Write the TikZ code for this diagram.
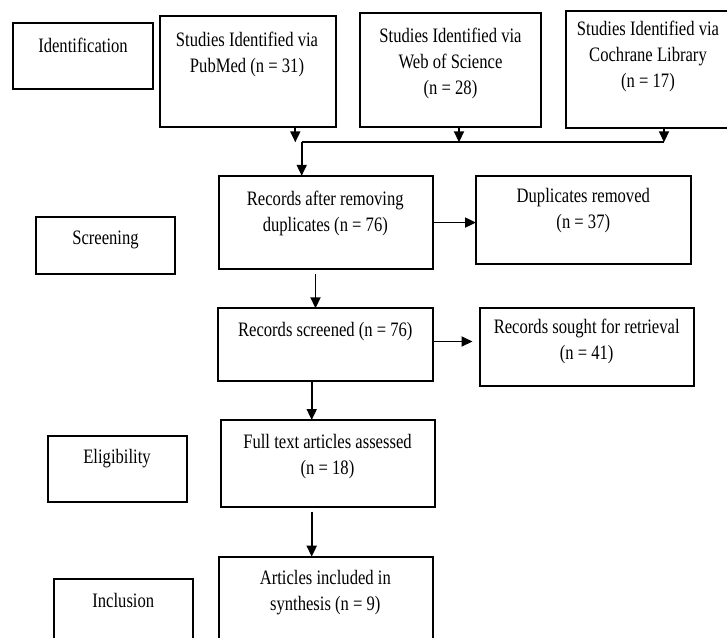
\documentclass[tikz,border=0pt]{standalone}
\usepackage{fontspec}
\setmainfont[FakeStretch=0.81]{Liberation Serif}
\usetikzlibrary{arrows.meta}
\begin{document}
\begin{tikzpicture}[x=1pt,y=-1pt,
  box/.style={draw, line width=2pt, inner sep=0pt, outer sep=0pt},
  txt/.style={align=center, inner sep=0pt, font=\fontsize{20.5}{26}\selectfont},
  link/.style={line width=1.8pt},
  arr/.style={line width=1.8pt, -{Triangle[length=11pt,width=10pt]}}]
\useasboundingbox (0,0) rectangle (727,637);
\clip (0,0) rectangle (727,637);
\fill[white] (0,0) rectangle (727,637);
% boxes
\node[box, minimum width=139.4pt, minimum height=66.3pt] (ident) at (83,55.85) {};
\node[box, minimum width=176.3pt, minimum height=110.7pt] (pub) at (247.85,71.35) {};
\node[box, minimum width=181.3pt, minimum height=113.4pt] (wos) at (450.65,70) {};
\node[box, minimum width=169.3pt, minimum height=116.7pt] (coch) at (650.35,69.35) {};
\node[box, minimum width=214.2pt, minimum height=93.5pt] (rec) at (325.6,222.55) {};
\node[box, minimum width=214.5pt, minimum height=88.5pt] (dup) at (583.25,220.05) {};
\node[box, minimum width=139.3pt, minimum height=56.7pt] (scr) at (105.35,245.65) {};
\node[box, minimum width=214.3pt, minimum height=72.4pt] (screened) at (325.5,344.5) {};
\node[box, minimum width=214.3pt, minimum height=77.4pt] (sought) at (587.15,347) {};
\node[box, minimum width=214pt, minimum height=87pt] (full) at (328,463.5) {};
\node[box, minimum width=139pt, minimum height=66pt] (elig) at (117.2,469) {};
\node[box, minimum width=213.7pt, minimum height=103.3pt] (art) at (325.85,608.35) {};
\node[box, minimum width=139.3pt, minimum height=81pt] (incl) at (123.65,619.5) {};
% texts
\node[txt] (identT) at (83,45) {Identification};
\node[txt] (pubT) at (247,54) {Studies Identified via\\PubMed (n = 31)};
\node[txt] (wosT) at (450.5,63) {Studies Identified via\\Web of Science\\(n = 28)};
\node[txt] (cochT) at (648,56.7) {Studies Identified via\\Cochrane Library\\(n = 17)};
\node[txt] (recT) at (325.3,213) {Records after removing\\duplicates (n = 76)};
\node[txt] (dupT) at (583.3,210.3) {Duplicates removed\\(n = 37)};
\node[txt] (scrT) at (105.5,240) {Screening};
\node[txt] (screenedT) at (325.3,331.7) {Records screened (n = 76)};
\node[txt] (soughtT) at (586.7,341.2) {Records sought for retrieval\\(n = 41)};
\node[txt] (fullT) at (327.5,456.3) {Full text articles assessed\\(n = 18)};
\node[txt] (eligT) at (117,458.3) {Eligibility};
\node[txt] (artT) at (325.3,592.5) {Articles included in\\synthesis (n = 9)};
\node[txt] (inclT) at (123.3,600.7) {Inclusion};
% connector points
\coordinate (j1) at (295.3,142.3);
\coordinate (j2) at (459,142.3);
\coordinate (j3) at (664,142.3);
\coordinate (jl) at (301.7,142.3);
\coordinate (c1) at (315.5,274);
\coordinate (c2) at (0,341.5);
\coordinate (c3) at (311.7,0);
\coordinate (c4) at (311.7,511.7);
% connectors
\draw[arr] (pub.south -| j1) -- (j1);
\draw[arr] (wos.south -| j2) -- (j2);
\draw[arr] (coch.south -| j3) -- (j3);
\draw[link] (jl) -- (j3);
\draw[arr] (jl) -- (rec.north -| jl);
\draw[arr] (rec.east) -- (dup.west |- rec.east);
\draw[arr] (c1) -- (screened.north -| c1);
\draw[arr, shorten >=7.5pt] (screened.east |- c2) -- (sought.west |- c2);
\draw[arr] (screened.south -| c3) -- (full.north -| c3);
\draw[arr] (c4) -- (art.north -| c4);
\end{tikzpicture}
\end{document}
